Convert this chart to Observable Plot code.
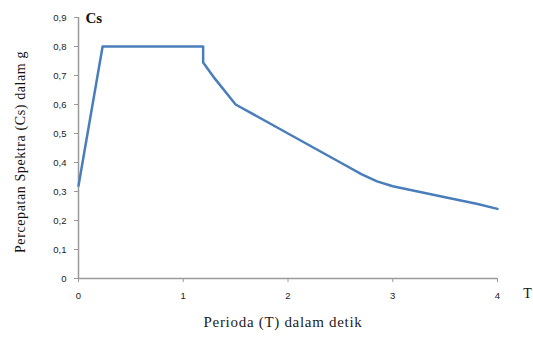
<!DOCTYPE html>
<html>
<head>
<meta charset="utf-8">
<script src="https://cdn.jsdelivr.net/npm/d3@7"></script>
<script src="https://cdn.jsdelivr.net/npm/@observablehq/plot@0.6"></script>
<style>
  html, body { margin: 0; padding: 0; background: #fff; }
</style>
</head>
<body>
<div id="chart"></div>
<script>
const periods = [0, 0.23, 1.19, 1.19, 1.3, 1.5, 2.0, 2.5, 2.7, 2.85, 3.0, 3.5, 3.8, 4.0];
const csValues = [0.32, 0.80, 0.80, 0.745, 0.69, 0.60, 0.50, 0.40, 0.36, 0.335, 0.318, 0.28, 0.258, 0.24];
const xTicks = [0, 1, 2, 3, 4];
const yTicks = [0, 0.1, 0.2, 0.3, 0.4, 0.5, 0.6, 0.7, 0.8, 0.9];
const yTitle = "Percepatan Spektra (Cs) dalam g";
const xTitle = "Perioda (T) dalam detik";
const yUnit = "Cs";
const xUnit = "T";

const data = periods.map((t, i) => ({t, cs: csValues[i]}));
const comma = d => d === 0 ? "0" : d3.format(".1f")(d).replace(".", ",");
const serif = "'Liberation Serif', 'Times New Roman', serif";
const sans = "'Liberation Sans', Arial, sans-serif";

const chart = Plot.plot({
  width: 533,
  height: 349,
  marginLeft: 78,
  marginRight: 36,
  marginTop: 17,
  marginBottom: 71,
  x: {domain: [0, 4]},
  y: {domain: [0, 0.9]},
  style: {background: "#fff"},
  marks: [
    Plot.ruleX([0], {stroke: "#9a9a9a", strokeWidth: 1.5}),
    Plot.ruleY([0], {stroke: "#9a9a9a", strokeWidth: 1.5}),
    Plot.axisY({ticks: yTicks, tickFormat: comma, tickSize: 4, tickPadding: 8,
      stroke: "#9a9a9a", fill: "#222", fontSize: 9.5, fontFamily: sans, label: null}),
    Plot.axisX({ticks: xTicks, tickFormat: d => String(d), tickSize: 4, tickPadding: 10,
      stroke: "#9a9a9a", fill: "#222", fontSize: 9.5, fontFamily: sans, label: null}),
    Plot.line(data, {x: "t", y: "cs", stroke: "#4a7ebb", strokeWidth: 2.5, strokeLinejoin: "round"}),
    Plot.text([yUnit], {frameAnchor: "top-left", text: d => d, dx: 7, dy: -5,
      fontFamily: serif, fontSize: 15, fontWeight: "bold", fill: "#111", textAnchor: "start"}),
    Plot.text([xUnit], {frameAnchor: "bottom-right", text: d => d, dx: 30, dy: 19,
      fontFamily: serif, fontSize: 14, fill: "#111", textAnchor: "middle"}),
    Plot.text([xTitle], {frameAnchor: "bottom", text: d => d, dy: 48, dx: -5,
      fontFamily: serif, fontSize: 15, fill: "#222"}),
    Plot.text([yTitle], {frameAnchor: "left", text: d => d, dx: -58, dy: 4, rotate: -90,
      textAnchor: "middle", fontFamily: serif, fontSize: 14, fill: "#111"})
  ]
});
chart.querySelectorAll("text").forEach(t => {
  if (t.textContent === xTitle) t.style.letterSpacing = "0.7px";
  if (t.textContent === yTitle) t.style.letterSpacing = "0.6px";
});
document.getElementById("chart").appendChild(chart);
</script>
</body>
</html>
